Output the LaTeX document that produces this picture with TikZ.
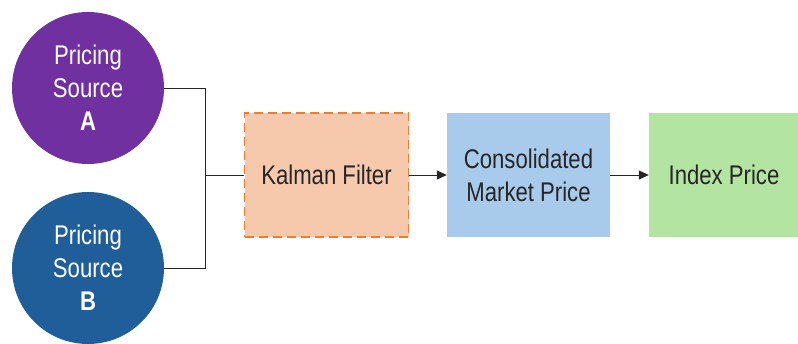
\documentclass[tikz,border=0pt]{standalone}
\usepackage{fontspec}
\setmainfont[FakeStretch=0.82]{Liberation Sans}
\usetikzlibrary{arrows.meta}
\definecolor{cpurple}{HTML}{7030A0}
\definecolor{cblue}{HTML}{1F5E99}
\definecolor{kfill}{HTML}{F7C9AC}
\definecolor{kdraw}{HTML}{ED7D31}
\definecolor{bfill}{HTML}{A8CAEB}
\definecolor{gfill}{HTML}{B3E4A1}
\definecolor{txt}{HTML}{262626}
\begin{document}
\begin{tikzpicture}[x=1pt,y=-1pt,
  src/.style={circle,minimum size=152pt,inner sep=0pt,text=white,align=center,font=\fontsize{27}{33}\selectfont},
  boxn/.style={minimum width=164pt,minimum height=124pt,inner sep=0pt,text=txt,align=center,font=\fontsize{27}{33}\selectfont},
  conn/.style={draw=black!85,line width=1pt},
  arr/.style={conn,-{Triangle[length=10pt,width=9pt]}}]
\useasboundingbox (0,0) rectangle (798,343);
\fill[white] (0,0) rectangle (798,343);
\node[src,fill=cpurple] (A) at (88,88) {Pricing\\Source\\\textbf{A}};
\node[src,fill=cblue] (B) at (88,268) {Pricing\\Source\\\textbf{B}};
\node[boxn,fill=kfill,draw=kdraw,line width=1.8pt,dash pattern=on 9pt off 5pt] (K) at (326.5,175) {Kalman Filter};
\node[boxn,fill=bfill,minimum width=163pt] (C) at (528.5,175) {Consolidated\\Market Price};
\node[boxn,fill=gfill,minimum width=150pt] (I) at (724,175) {Index Price};
\coordinate (J) at (205,175);
\draw[conn] (A.east) -| (J);
\draw[conn] (B.east) -| (J);
\draw[conn] (J) -- (K.west);
\draw[arr] (K.east) -- (C.west);
\draw[arr] (C.east) -- (I.west);
\end{tikzpicture}
\end{document}
